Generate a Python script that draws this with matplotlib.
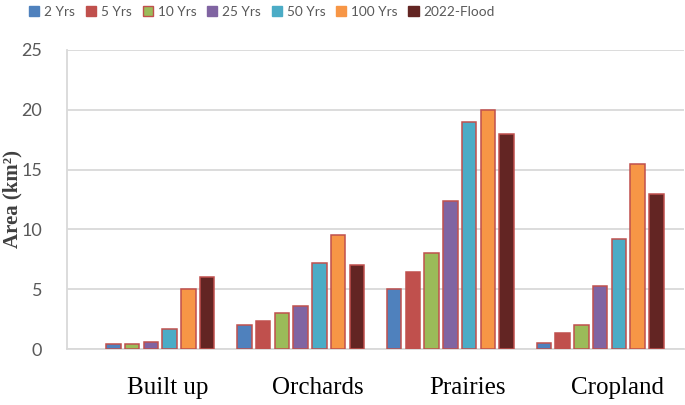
import numpy as np
import matplotlib
matplotlib.use("Agg")
import matplotlib.pyplot as plt
from matplotlib.patches import Patch

categories = ["Built up", "Orchards", "Prairies", "Cropland"]
series = ["2 Yrs", "5 Yrs", "10 Yrs", "25 Yrs", "50 Yrs", "100 Yrs", "2022-Flood"]

# area (km2) per land use, one list per return period
yrs2 = [0.0, 2.0, 5.0, 0.5]
yrs5 = [0.4, 2.3, 6.4, 1.3]
yrs10 = [0.4, 3.0, 8.0, 2.0]
yrs25 = [0.6, 3.6, 12.4, 5.3]
yrs50 = [1.7, 7.2, 19.0, 9.2]
yrs100 = [5.0, 9.5, 20.0, 15.5]
flood2022 = [6.0, 7.0, 18.0, 13.0]
values = [yrs2, yrs5, yrs10, yrs25, yrs50, yrs100, flood2022]

colors = ["#4F81BD", "#C0504D", "#9BBB59", "#8064A2", "#4BACC6", "#F79646", "#632523"]
edge = "#C0504D"
# in the original the Built up bars are coloured one step behind
builtup_colors = ["#4F81BD", "#4F81BD", "#9BBB59", "#8064A2", "#4BACC6", "#F79646", "#632523"]

fig = plt.figure(figsize=(6.85, 4.05), dpi=100)
ax = fig.add_axes([67 / 685, 1 - 349 / 405, 617 / 685, 299 / 405])

x = np.arange(len(categories))
step = 0.125
width = 0.097
for i, (name, vals) in enumerate(zip(series, values)):
    fc = [builtup_colors[i]] + [colors[i]] * (len(categories) - 1)
    lw = [1.1 if v > 0 else 0 for v in vals]
    ax.bar(x + (i - 3) * step, vals, width, color=fc, edgecolor=edge, linewidth=lw, zorder=3)

ax.set_xlim(-0.56, 3.56)
ax.set_ylim(0, 25)
ax.set_yticks(range(0, 26, 5))
ax.yaxis.grid(True, color="#D9D9D9", linewidth=1.3, zorder=0)
ax.tick_params(axis="y", length=0, pad=18, labelsize=13, labelcolor="#595959")
for t in ax.get_yticklabels():
    t.set_fontfamily("Lato")

ax.set_xticks(x + 0.113)
ax.set_xticklabels(categories, family="Liberation Serif", fontsize=18)
ax.tick_params(axis="x", length=0, pad=20)

for s in ["top", "right"]:
    ax.spines[s].set_visible(False)
ax.spines["left"].set_color("#D9D9D9")
ax.spines["left"].set_linewidth(1.3)
ax.spines["bottom"].set_color("#D9D9D9")
ax.spines["bottom"].set_linewidth(1.3)

fig.text(12 / 685, 1 - 199 / 405, "Area (km²)", rotation=90, ha="center", va="center",
         family="Liberation Serif", fontweight="bold", fontsize=15, color="#404040")

handles = []
for i, name in enumerate(series):
    ec = edge if i == 2 else colors[i]
    handles.append(Patch(facecolor=colors[i], edgecolor=ec, linewidth=1.0, label=name))
leg = fig.legend(handles=handles, loc="center", bbox_to_anchor=(262 / 685, 1 - 12 / 405), ncol=7,
                 frameon=False, handlelength=0.75, handleheight=0.75, handletextpad=0.35,
                 columnspacing=0.8, borderpad=0, prop={"family": "Lato", "size": 9.8})
for t in leg.get_texts():
    t.set_color("#595959")

fig.savefig("out.png", dpi=100)
